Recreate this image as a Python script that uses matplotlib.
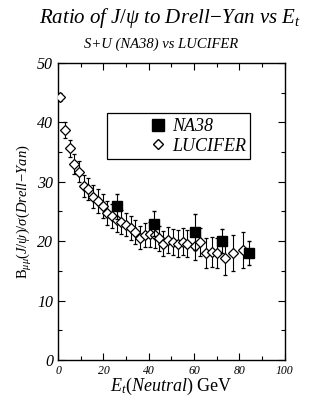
import numpy as np
import matplotlib
matplotlib.use("Agg")
import matplotlib.pyplot as plt
from matplotlib.lines import Line2D
from matplotlib.ticker import MultipleLocator

plt.rcParams['font.family'] = ['Liberation Serif', 'DejaVu Serif']
plt.rcParams['mathtext.fontset'] = 'custom'
plt.rcParams['mathtext.rm'] = 'Liberation Serif'
plt.rcParams['mathtext.it'] = 'Liberation Serif:italic'

# LUCIFER calculation
luc_et = [1.0, 3.2, 5.1, 7.2, 9.2, 11.3, 13.3, 15.4, 17.6, 19.7, 21.7, 23.8,
          25.8, 27.9, 30.0, 32.0, 34.0, 36.1, 38.3, 40.5, 42.7, 44.6, 46.4,
          48.6, 50.8, 53.0, 55.2, 57.0, 60.4, 62.6, 65.2, 67.7, 69.9, 73.6,
          77.2, 81.6]
luc_r = [44.2, 38.7, 35.6, 33.0, 31.7, 29.3, 28.8, 27.5, 26.7, 25.9, 24.8, 24.2,
         23.6, 23.2, 22.8, 22.2, 21.6, 20.6, 21.0, 21.2, 21.0, 20.5, 19.6,
         20.2, 19.9, 19.6, 19.9, 19.6, 19.2, 19.9, 18.0, 18.2, 18.0, 17.1,
         18.0, 18.5]
luc_err = [0.6, 1.3, 1.5, 1.7, 1.8, 1.9, 1.9, 2.0, 2.0, 2.0, 2.0, 2.0,
           2.0, 2.0, 2.0, 2.0, 2.0, 2.0, 2.0, 2.1, 2.1, 2.1, 2.1,
           2.2, 2.2, 2.2, 2.3, 2.3, 2.4, 2.4, 2.5, 2.5, 2.6, 2.8,
           3.0, 3.0]

# NA38 data
na_et = [25.8, 42.3, 60.4, 72.3, 84.4]
na_r = [25.9, 22.9, 21.5, 20.0, 18.0]
na_err = [2.1, 2.1, 3.0, 2.0, 2.0]

fig = plt.figure(figsize=(3.12, 3.96), dpi=100)
ax = fig.add_axes([0.186, 0.091, 0.727, 0.750])

ax.errorbar(luc_et, luc_r, yerr=luc_err, fmt='D', ms=5.3, mfc='white', mec='black',
            mew=0.9, ecolor='black', elinewidth=0.8, capsize=1.2, zorder=3)
ax.errorbar(na_et, na_r, yerr=na_err, fmt='s', ms=7.5, mfc='black', mec='black',
            ecolor='black', elinewidth=0.8, capsize=1.2, zorder=4)

ax.set_xlim(0, 100)
ax.set_ylim(0, 50)
ax.xaxis.set_major_locator(MultipleLocator(20))
ax.xaxis.set_minor_locator(MultipleLocator(10))
ax.yaxis.set_major_locator(MultipleLocator(10))
ax.yaxis.set_minor_locator(MultipleLocator(5))
ax.tick_params(which='both', direction='in', top=True, right=True)
ax.tick_params(which='major', length=5, width=0.8)
ax.tick_params(which='minor', length=3, width=0.8)
ax.tick_params(axis='y', labelsize=11.5)
ax.tick_params(axis='x', labelsize=8.5)
for lab in ax.get_xticklabels() + ax.get_yticklabels():
    lab.set_style('italic')
for s in ax.spines.values():
    s.set_linewidth(1.0)

ax.set_xlabel(r'$E_t$' + r'$\it{(Neutral)}$' + ' GeV', fontsize=13, labelpad=-1)
ax.set_ylabel(r'$\mathrm{B}_{\mu\mu}\it{(J/}\psi\it{)/}\sigma\it{(Drell\!-\!Yan)}$', fontsize=10.5, labelpad=2)

fig.text(0.545, 0.955, r'$Ratio\ of\ J/\psi\ to\ Drell\!-\!Yan\ vs\ E_t$', ha='center', va='center', fontsize=15)
fig.text(0.515, 0.888, 'S+U (NA38) vs LUCIFER', ha='center', va='center', fontsize=10.5, style='italic')

handles = [Line2D([], [], marker='s', ls='', ms=8, mfc='black', mec='black'),
           Line2D([], [], marker='D', ls='', ms=5, mfc='white', mec='black')]
leg = ax.legend(handles, ['NA38', 'LUCIFER'], loc='upper left', bbox_to_anchor=(0.215, 0.83),
                prop={'style': 'italic', 'size': 13}, fancybox=False, edgecolor='black',
                framealpha=1, handletextpad=-1.85, handlelength=5.2, borderpad=0.25,
                labelspacing=0.15, borderaxespad=0)
leg.get_frame().set_linewidth(0.9)

fig.savefig('out.png', dpi=100)
